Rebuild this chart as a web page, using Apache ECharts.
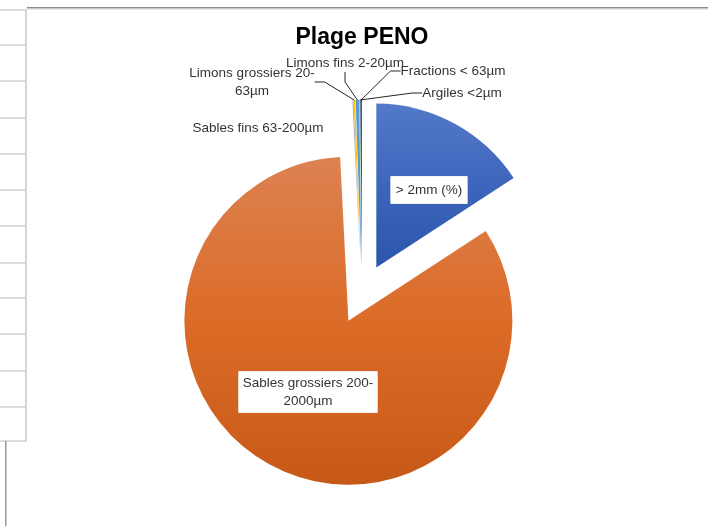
<!DOCTYPE html>
<html>
<head>
<meta charset="utf-8">
<script src="https://cdn.jsdelivr.net/npm/echarts@6/dist/echarts.min.js"></script>
<style>
  html, body { margin: 0; padding: 0; background: #fff; }
  #chart { width: 708px; height: 526px; }
</style>
</head>
<body>
<div id="chart"></div>
<script>
// categories and shares (%)
const categories = [
  '> 2mm (%)',
  'Sables grossiers 200-\n2000µm',
  'Sables fins 63-200µm',
  'Limons grossiers 20-\n63µm',
  'Limons fins 2-20µm',
  'Argiles <2µm',
  'Fractions < 63µm'
]
const shares = [15.8, 83.4, 0.1, 0.15, 0.35, 0.05, 0.15]

// excel office palette
const colors = ['#4472C4', '#ED7D31', '#A5A5A5', '#FFC000', '#5B9BD5', '#70AD47', '#264478']

// where excel put each label (centre of text)
const labelPos = [
  [429, 190],
  [308, 392],
  [258, 128],
  [252, 82],
  [345, 63],
  [462, 93],
  [453, 71]
]
const insideLabel = [true, true, false, false, false, false, false]

const grad = (top, mid, bottom) => new echarts.graphic.LinearGradient(0, 0, 0, 1, [
  { offset: 0, color: top },
  { offset: 0.5, color: mid },
  { offset: 1, color: bottom }
])

const fills = [
  grad('#5379c8', '#3d65bb', '#2b56ac'),
  grad('#dc8252', '#dc6b27', '#c75918'),
  colors[2], colors[3], colors[4], colors[5], colors[6]
]

// exploded slices (every slice pulled out, like excel's pie explosion)
const pieData = categories.map((name, i) => ({
  name: name,
  value: shares[i],
  selected: true,
  itemStyle: { color: fills[i] }
}))

const boxPadding = [[5, 5, 4, 5], [3, 4, 2, 4]]

// same slices again, transparent, only to carry the labels
// (labels of selected slices ignore labelLayout)
const labelData = categories.map((name, i) => ({
  name: name,
  value: shares[i],
  itemStyle: { color: 'rgba(0,0,0,0)' },
  label: insideLabel[i]
    ? { position: 'inside', backgroundColor: '#fff', padding: boxPadding[i], borderColor: '#e3e3e3', borderWidth: 0.5 }
    : { position: 'outside' },
  labelLine: { show: !insideLabel[i] && i !== 2 }
}))

// spreadsheet bits around the chart object
const rowLines = [9, 44, 80, 117, 153, 189, 225, 262, 297, 333, 370, 406, 440]
const sheet = rowLines.map(y => ({
  type: 'rect',
  shape: { x: 0, y: y, width: 26, height: 2 },
  style: { fill: '#dcdcdc' }
}))
sheet.push(
  { type: 'rect', shape: { x: 25, y: 9, width: 2, height: 433 }, style: { fill: '#d6d6d6' } },
  { type: 'rect', shape: { x: 27, y: 7, width: 681, height: 1.5 }, style: { fill: '#8a8a8a' } },
  { type: 'rect', shape: { x: 27, y: 8.5, width: 681, height: 1 }, style: { fill: '#d0d0d0' } },
  { type: 'rect', shape: { x: 5, y: 441, width: 1.5, height: 85 }, style: { fill: '#9a9a9a' } }
)

const myChart = echarts.init(document.getElementById('chart'))
myChart.setOption({
  animation: false,
  backgroundColor: '#ffffff',
  textStyle: { fontFamily: 'Liberation Sans' },
  title: {
    text: 'Plage PENO',
    left: 357,
    top: 21,
    textAlign: 'center',
    textStyle: { fontFamily: 'Liberation Sans', fontWeight: 'bold', fontSize: 23, color: '#000' }
  },
  graphic: sheet,
  series: [
    {
      type: 'pie',
      center: [362, 294],
      radius: [0, 164],
      startAngle: 90,
      clockwise: true,
      selectedMode: 'multiple',
      selectedOffset: 30,
      silent: true,
      emphasis: { disabled: true },
      itemStyle: { borderWidth: 0 },
      label: { show: false },
      labelLine: { show: false },
      data: pieData
    },
    {
      type: 'pie',
      center: [362, 294],
      radius: [0, 194],
      startAngle: 90,
      clockwise: true,
      silent: true,
      z: 3,
      avoidLabelOverlap: false,
      emphasis: { disabled: true },
      itemStyle: { borderWidth: 0 },
      label: {
        show: true,
        formatter: '{b}',
        color: '#333333',
        fontSize: 13.5,
        lineHeight: 18,
        align: 'center'
      },
      labelLine: {
        length: 12,
        length2: 10,
        lineStyle: { color: '#262626', width: 1 }
      },
      labelLayout: (params) => ({
        x: labelPos[params.dataIndex][0],
        y: labelPos[params.dataIndex][1],
        align: 'center',
        verticalAlign: 'middle'
      }),
      data: labelData
    }
  ]
})
</script>
</body>
</html>
